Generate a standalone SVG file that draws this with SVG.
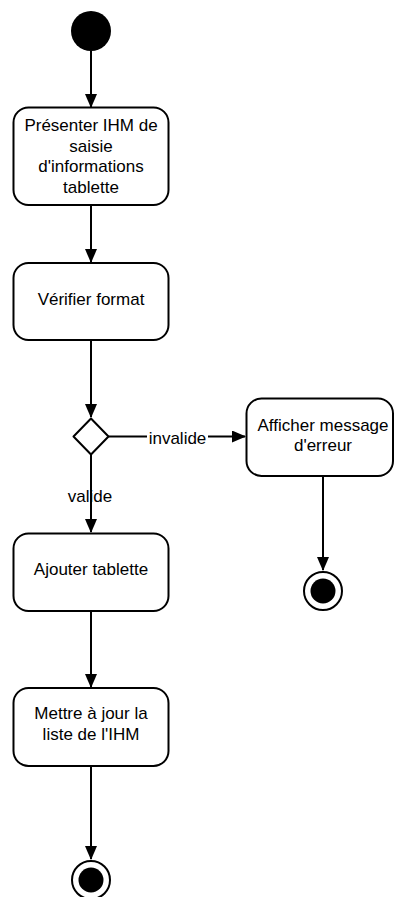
<svg xmlns="http://www.w3.org/2000/svg" width="394" height="897" viewBox="0 0 394 897">
<defs>
<style>
.box{fill:#fff;stroke:#000;stroke-width:2}
.lbl{font-family:"Liberation Sans",Arial,sans-serif;font-size:17px;fill:#000;text-anchor:middle;dominant-baseline:central}
.edge{fill:none;stroke:#000;stroke-width:2}
</style>
<marker id="arr" markerWidth="14" markerHeight="12" refX="13" refY="6" orient="auto" markerUnits="userSpaceOnUse">
<path d="M0,0 L14,6 L0,12 Z" fill="#000"/>
</marker>
</defs>
<rect width="394" height="897" fill="#fff"/>
<g id="connectors">
<line class="edge" x1="91" y1="51" x2="91" y2="107" marker-end="url(#arr)"/>
<line class="edge" x1="91" y1="205" x2="91" y2="262" marker-end="url(#arr)"/>
<line class="edge" x1="91" y1="340" x2="91" y2="417" marker-end="url(#arr)"/>
<line class="edge" x1="108.5" y1="436.5" x2="245" y2="436.5" marker-end="url(#arr)"/>
<rect x="147" y="428" width="61" height="18" fill="#fff"/>
<text class="lbl" x="177.5" y="438">invalide</text>
<line class="edge" x1="91" y1="454.5" x2="91" y2="532" marker-end="url(#arr)"/>
<text class="lbl" x="90" y="496">valide</text>
<line class="edge" x1="323" y1="476" x2="323" y2="570" marker-end="url(#arr)"/>
<line class="edge" x1="91" y1="611" x2="91" y2="687" marker-end="url(#arr)"/>
<line class="edge" x1="91" y1="766" x2="91" y2="859" marker-end="url(#arr)"/>
</g>
<g id="start">
<circle cx="91" cy="31" r="20" fill="#000"/>
</g>
<g id="presenter">
<rect class="box" x="13.5" y="107.5" width="155" height="97.5" rx="15"/>
<text class="lbl" x="91" y="125">Présenter IHM de</text>
<text class="lbl" x="91" y="146">saisie</text>
<text class="lbl" x="91" y="166.5">d'informations</text>
<text class="lbl" x="91" y="187">tablette</text>
</g>
<g id="verifier">
<rect class="box" x="13.5" y="263" width="155" height="77" rx="15"/>
<text class="lbl" x="91" y="299.5">Vérifier format</text>
</g>
<g id="decision">
<path class="box" d="M91,418.5 L108.5,436.5 L91,454.5 L73.5,436.5 Z" stroke-linejoin="round"/>
</g>
<g id="afficher">
<rect class="box" x="246.5" y="398.5" width="146.5" height="77.5" rx="15"/>
<text class="lbl" x="323" y="425.5">Afficher message</text>
<text class="lbl" x="323" y="445.5">d'erreur</text>
</g>
<g id="end-error">
<circle cx="323" cy="591" r="19" fill="#fff" stroke="#000" stroke-width="2"/>
<circle cx="323" cy="591" r="12.5" fill="#000"/>
</g>
<g id="ajouter">
<rect class="box" x="13.5" y="533.5" width="155" height="77.5" rx="15"/>
<text class="lbl" x="91" y="569.5">Ajouter tablette</text>
</g>
<g id="mettre">
<rect class="box" x="13.5" y="688" width="155" height="78" rx="15"/>
<text class="lbl" x="91" y="713.5">Mettre à jour la</text>
<text class="lbl" x="91" y="734">liste de l'IHM</text>
</g>
<g id="end-main">
<circle cx="91" cy="880" r="19" fill="#fff" stroke="#000" stroke-width="2"/>
<circle cx="91" cy="880" r="12.5" fill="#000"/>
</g>
</svg>
